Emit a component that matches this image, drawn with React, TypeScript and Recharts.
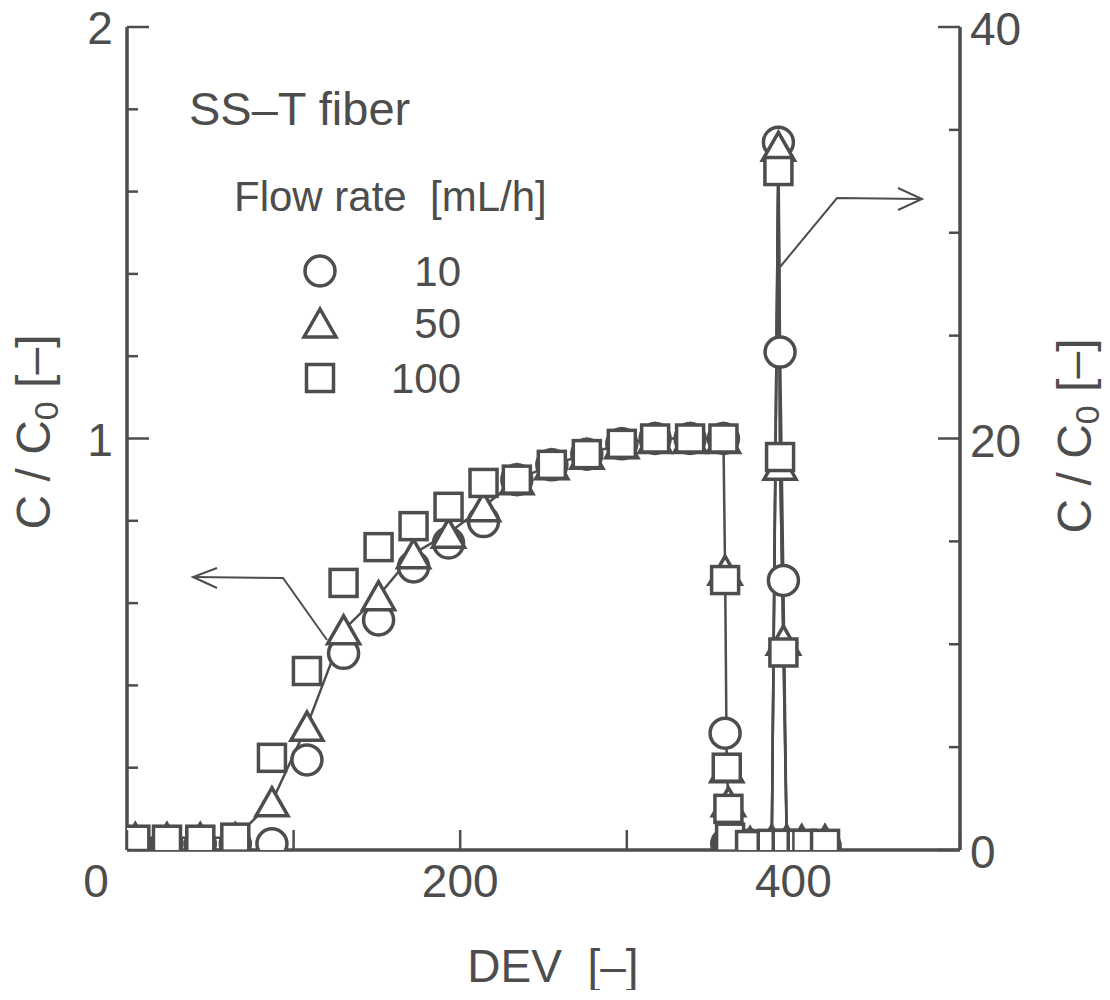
import { ScatterChart, Scatter, XAxis, YAxis } from 'recharts';

// DEV sampling of the breakthrough run (left axis)
const devBreak = [5, 24, 44, 65, 87, 108, 130, 151, 172, 193, 214, 234, 255, 276, 297, 317, 338, 358, 359, 360, 361, 362, 374];
const bt10 = [0.015, 0.015, 0.015, 0.015, 0.015, 0.219, 0.478, 0.559, 0.688, 0.746, 0.798, 0.9, 0.936, 0.962, 0.987, 1.0, 1.0, 1.0, 0.284, 0.015, 0.012, 0.012, 0.012];
const bt50 = [0.03, 0.03, 0.03, 0.03, 0.117, 0.301, 0.535, 0.618, 0.72, 0.77, 0.834, 0.9, 0.936, 0.962, 0.987, 1.0, 1.0, 1.0, 0.68, 0.2, 0.117, 0.03, 0.02];
const bt100 = [0.025, 0.025, 0.025, 0.03, 0.224, 0.435, 0.649, 0.736, 0.787, 0.834, 0.892, 0.9, 0.936, 0.962, 0.987, 1.0, 1.0, 1.0, 0.656, 0.2, 0.1, 0.03, 0.012];

// elution peak (right axis)
const devElute = [387, 391, 392, 394, 396, 405, 419];
const el10 = [0.2, 34.4, 24.2, 13.1, 0.2, 0.2, 0.2];
const el50 = [0.5, 34.2, 18.7, 10.2, 0.5, 0.5, 0.5];
const el100 = [0.3, 33.0, 19.1, 9.6, 0.3, 0.3, 0.3];

const xTicks = [0, 100, 200, 300, 400, 500];
const xLabels = [0, 200, 400];
const leftTicks = [0, 0.2, 0.4, 0.6, 0.8, 1, 1.2, 1.4, 1.6, 1.8, 2];
const leftMajor = [0, 1, 2];
const leftLabels = [1, 2];
const rightTicks = [0, 5, 10, 15, 20, 25, 30, 35, 40];
const rightMajor = [0, 20, 40];
const flowRates = ['10', '50', '100'];

const INK = '#4d4d4d';
const FONT = '"Liberation Sans", Arial, Helvetica, sans-serif';

const toPoints = (xs: number[], ys: number[]) => xs.map((x, i) => ({ x, y: ys[i] }));

const CircleMark = (p: any) => (
    <circle cx={p.cx} cy={p.cy} r={15} fill="#fff" stroke={INK} strokeWidth={3.5} />
);
const TriangleMark = (p: any) => (
    <polygon
        points={`${p.cx},${p.cy - 14} ${p.cx - 16},${p.cy + 14} ${p.cx + 16},${p.cy + 14}`}
        fill="#fff"
        stroke={INK}
        strokeWidth={3.5}
    />
);
const SquareMark = (p: any) => (
    <rect x={p.cx - 13.5} y={p.cy - 13.5} width={27} height={27} fill="#fff" stroke={INK} strokeWidth={3.5} />
);
const NoMark = () => <g />;

const BottomTick = ({ x, y, payload }: any) => {
    const v = payload.value;
    return (
        <g>
            <line x1={x} y1={y} x2={x} y2={y - 20} stroke={INK} strokeWidth={2.5} />
            {xLabels.includes(v) && (
                <text x={v === 0 ? x - 31 : x} y={y + 47} textAnchor="middle" fill={INK} fontSize={46} fontFamily={FONT}>
                    {v}
                </text>
            )}
        </g>
    );
};

const TopTick = ({ x, y }: any) => <line x1={x} y1={y} x2={x} y2={y + 20} stroke={INK} strokeWidth={2.5} />;

const LeftTick = ({ x, y, payload }: any) => {
    const v = payload.value;
    const len = leftMajor.includes(v) ? 22 : 11;
    return (
        <g>
            <line x1={x} y1={y} x2={x + len} y2={y} stroke={INK} strokeWidth={2.5} />
            {leftLabels.includes(v) && (
                <text x={x - 27} y={y + 17} textAnchor="middle" fill={INK} fontSize={46} fontFamily={FONT}>
                    {v}
                </text>
            )}
        </g>
    );
};

const RightTick = ({ x, y, payload }: any) => {
    const v = payload.value;
    const major = rightMajor.includes(v);
    return (
        <g>
            <line x1={x} y1={y} x2={x - (major ? 22 : 11)} y2={y} stroke={INK} strokeWidth={2.5} />
            {major && (
                <text x={x + 10} y={y + 18} textAnchor="start" fill={INK} fontSize={46} fontFamily={FONT}>
                    {v}
                </text>
            )}
        </g>
    );
};

const lineStyle = { stroke: INK, strokeWidth: 2.5 };

export default function App() {
    const legendShapes = [CircleMark, TriangleMark, SquareMark];
    const legendY = [271, 323, 378];

    return (
        <div style={{ position: 'relative', width: 1100, height: 990, marginTop: -8 }}>
            <ScatterChart width={1100} height={990} margin={{ top: 27, right: 88, bottom: 80, left: 59 }}>
                <XAxis
                    xAxisId="x"
                    type="number"
                    dataKey="x"
                    domain={[0, 500]}
                    ticks={xTicks}
                    interval={0}
                    allowDataOverflow
                    height={60}
                    tickSize={0}
                    tickMargin={0}
                    tickLine={false}
                    tick={<BottomTick />}
                    axisLine={{ stroke: INK, strokeWidth: 3.5 }}
                />
                <XAxis
                    xAxisId="xt"
                    orientation="top"
                    type="number"
                    dataKey="x"
                    domain={[0, 500]}
                    ticks={xTicks}
                    interval={0}
                    allowDataOverflow
                    height={0}
                    tickSize={0}
                    tickMargin={0}
                    tickLine={false}
                    tick={<TopTick />}
                    axisLine={{ stroke: INK, strokeWidth: 3.5 }}
                />
                <YAxis
                    yAxisId="l"
                    type="number"
                    dataKey="y"
                    domain={[0, 2]}
                    ticks={leftTicks}
                    interval={0}
                    allowDataOverflow
                    width={60}
                    tickSize={0}
                    tickMargin={0}
                    tickLine={false}
                    tick={<LeftTick />}
                    axisLine={{ stroke: INK, strokeWidth: 3.5 }}
                />
                <YAxis
                    yAxisId="r"
                    orientation="right"
                    type="number"
                    dataKey="y"
                    domain={[0, 40]}
                    ticks={rightTicks}
                    interval={0}
                    allowDataOverflow
                    width={60}
                    tickSize={0}
                    tickMargin={0}
                    tickLine={false}
                    tick={<RightTick />}
                    axisLine={{ stroke: INK, strokeWidth: 3.5 }}
                />

                {/* connecting lines first, markers on top */}
                <Scatter xAxisId="x" yAxisId="l" data={toPoints(devBreak, bt50)} line={lineStyle} shape={NoMark} isAnimationActive={false} />
                <Scatter xAxisId="x" yAxisId="r" data={toPoints(devElute, el10)} line={lineStyle} shape={NoMark} isAnimationActive={false} />
                <Scatter xAxisId="x" yAxisId="r" data={toPoints(devElute, el50)} line={lineStyle} shape={NoMark} isAnimationActive={false} />
                <Scatter xAxisId="x" yAxisId="r" data={toPoints(devElute, el100)} line={lineStyle} shape={NoMark} isAnimationActive={false} />

                <Scatter name="10" xAxisId="x" yAxisId="l" data={toPoints(devBreak, bt10)} shape={CircleMark} isAnimationActive={false} />
                <Scatter name="10" xAxisId="x" yAxisId="r" data={toPoints(devElute, el10)} shape={CircleMark} isAnimationActive={false} />
                <Scatter name="50" xAxisId="x" yAxisId="l" data={toPoints(devBreak, bt50)} shape={TriangleMark} isAnimationActive={false} />
                <Scatter name="50" xAxisId="x" yAxisId="r" data={toPoints(devElute, el50)} shape={TriangleMark} isAnimationActive={false} />
                <Scatter name="100" xAxisId="x" yAxisId="l" data={toPoints(devBreak, bt100)} shape={SquareMark} isAnimationActive={false} />
                <Scatter name="100" xAxisId="x" yAxisId="r" data={toPoints(devElute, el100)} shape={SquareMark} isAnimationActive={false} />
            </ScatterChart>

            <svg
                width={1100}
                height={990}
                style={{ position: 'absolute', left: 0, top: 0, pointerEvents: 'none', overflow: 'visible' }}
                fontFamily={FONT}
                fill={INK}
            >
                <text x={181} y={125} fontSize={47}>SS–T fiber</text>
                <text x={226} y={211} fontSize={42} style={{ whiteSpace: 'pre' }}>Flow rate  [mL/h]</text>
                {flowRates.map((f, i) => {
                    const Mark = legendShapes[i];
                    return (
                        <g key={f}>
                            <Mark cx={312} cy={legendY[i]} />
                            <text x={453} y={legendY[i] + 15} fontSize={42} textAnchor="end">{f}</text>
                        </g>
                    );
                })}

                {/* arrows pointing to the relevant axes */}
                <g fill="none" stroke={INK} strokeWidth={2}>
                    <path d="M 319 640 L 275 578 L 185 577" />
                    <path d="M 209 568 L 185 577 L 209 588" />
                    <path d="M 772 267 L 829 198 L 914 199" />
                    <path d="M 890 188 L 914 199 L 890 210" />
                </g>

                <text x={545} y={982} fontSize={46} textAnchor="middle" style={{ whiteSpace: 'pre' }}>DEV  [–]</text>
                <text x={42} y={432} fontSize={48} textAnchor="middle" transform="rotate(-90 42 432)" style={{ whiteSpace: 'pre' }}>
                    C / C<tspan fontSize={34} dy={8}>0</tspan><tspan dy={-8}> [–]</tspan>
                </text>
                <text x={1083} y={436} fontSize={48} textAnchor="middle" transform="rotate(-90 1083 436)" style={{ whiteSpace: 'pre' }}>
                    C / C<tspan fontSize={34} dy={8}>0</tspan><tspan dy={-8}> [–]</tspan>
                </text>
            </svg>
        </div>
    );
}
